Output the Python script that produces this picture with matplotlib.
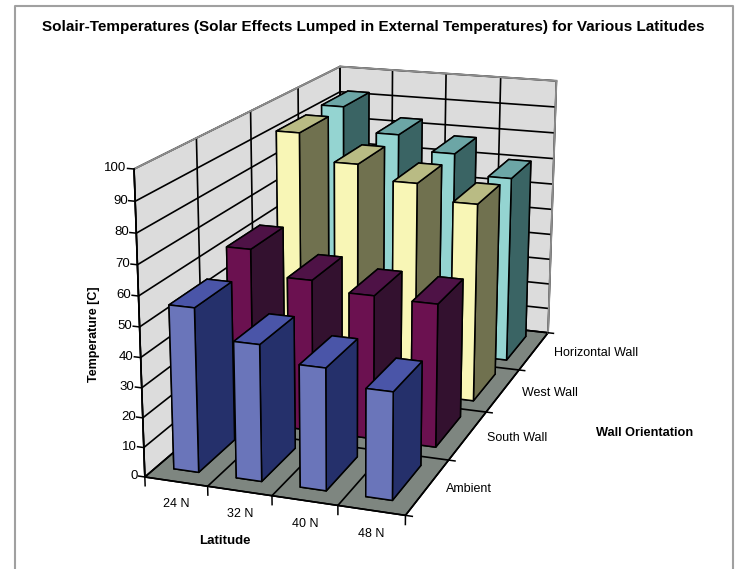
import numpy as np
import matplotlib
matplotlib.use('Agg')
import matplotlib.pyplot as plt
from matplotlib.lines import Line2D
from mpl_toolkits.mplot3d import proj3d

plt.rcParams['font.family'] = ['Liberation Sans', 'DejaVu Sans']

latitudes = ['24 N', '32 N', '40 N', '48 N']
orientations = ['Ambient', 'South Wall', 'West Wall', 'Horizontal Wall']
ambient = [55, 45.5, 40.5, 35.5]
south_wall = [61.5, 53, 50, 49.5]
west_wall = [91.5, 82, 77, 71.5]
horizontal_wall = [92, 83, 77.5, 70]
series = [ambient, south_wall, west_wall, horizontal_wall]
z_ticks = list(range(0, 101, 10))

# face colours: front, side, top for each series
front_colors = ['#6a75ba', '#6b1150', '#f8f6b6', '#94d4d1']
side_colors = ['#25306b', '#33112f', '#70714f', '#3a6464']
top_colors = ['#4a55a8', '#4e1246', '#b9bb84', '#6ca6a6']

W, H = 739, 569
fig = plt.figure(figsize=(W / 100, H / 100), dpi=100, facecolor='white')
ax = fig.add_axes([0.06183, -0.02725, 0.85056, 1.10469], projection='3d')
ax.patch.set_alpha(0)
ax.computed_zorder = False
ax.set_xlim(0, 4, view_margin=0)
ax.set_ylim(0, 4, view_margin=0)
ax.set_zlim(0, 100, view_margin=0)
ax.set_box_aspect((1, 2.0889, 1.1550))
ax.set_proj_type('persp', focal_length=0.5304)
ax.view_init(16.5487, -70.9297, -0.1781)

ax.set_xticks(range(5))
ax.set_yticks(range(5))
ax.set_zticks(z_ticks)
ax.set_xticklabels([])
ax.set_yticklabels([])
ax.set_zticklabels([])
ax.zaxis.set_ticks_position('lower')

for axis, pane in ((ax.xaxis, '#dcdcdc'), (ax.yaxis, '#dcdcdc'), (ax.zaxis, '#7e8680')):
    axis.set_pane_color(pane)
    axis.pane.set_edgecolor('#8c8c8c')
    axis.line.set_color('black')
    axis.line.set_linewidth(1.1)
    axis._axinfo['grid'].update(color='black', linewidth=1.2)
    axis._axinfo['tick'].update(inward_factor=0.0, outward_factor=0.0)
    axis.label.set_visible(False)
    axis.offsetText.set_visible(False)
ax.grid(True)


def label_at(x, y, z, s, **kw):
    """Place a label at a 3D data point through the axes' own projection."""
    px, py, _ = proj3d.proj_transform(x, y, z, ax.get_proj())
    ax.text2D(px, py, s, transform=ax.transData, **kw)


# grey upper and far edges of the walls
edge = dict(color='#8c8c8c', linewidth=1.4, zorder=1)
ax.plot([0, 0], [0, 4], [100, 100], **edge)
ax.plot([0, 4], [4, 4], [100, 100], **edge)
ax.plot([4, 4], [4, 4], [0, 100], **edge)

# tick marks
mark = dict(color='black', linewidth=1.1, zorder=2)
for i in range(5):
    ax.plot([i, i], [0, 0], [0, -3], **mark)
    ax.plot([4, 4.1], [i, i], [0, 0], **mark)
for v in z_ticks:
    ax.plot([0, -0.1], [0, 0], [v, v], **mark)
    label_at(-0.115, 0, v, str(v), ha='right', va='center', fontsize=9.5)
ax.plot([0, 0], [0, 0], [0, 100], color='black', linewidth=1.1, zorder=2)

bar_w, bar_d = 0.40, 0.64
off_x, off_y = 0.27, 0.20
for j in range(3, -1, -1):
    for i in range(4):
        h = series[j][i]
        # bar3d face order: bottom, top, front(-y), back(+y), left(-x), right(+x)
        cols = [side_colors[j], top_colors[j], front_colors[j], side_colors[j],
                side_colors[j], side_colors[j]]
        ax.bar3d(i + off_x, j + off_y, 0, bar_w, bar_d, h, color=cols, shade=False,
                 edgecolor='black', linewidth=1.1, zorder=10 + (3 - j) * 10 + i)

for i, lab in enumerate(latitudes):
    label_at(i + 0.5, 0, -7.8, lab, ha='center', va='center', fontsize=9)
for j, lab in enumerate(orientations):
    label_at(4.28 + 0.025 * j, j + 0.5, 0, lab, ha='left', va='center', fontsize=9)

fig.text(373.5 / W, 1 - 27 / H, 'Solair-Temperatures (Solar Effects Lumped in External Temperatures) for Various Latitudes',
         ha='center', va='center', fontsize=10.95, fontweight='bold')
fig.text(225 / W, 1 - 541 / H, 'Latitude', ha='center', va='center', fontsize=9.5, fontweight='bold')
fig.text(645 / W, 1 - 433 / H, 'Wall Orientation', ha='center', va='center', fontsize=9.2, fontweight='bold')
fig.text(94 / W, 1 - 334 / H, 'Temperature [C]', rotation=90, ha='center', va='center', fontsize=9, fontweight='bold')

# grey frame: left, top and right, running off the bottom of the picture
frame = dict(color='#a0a0a0', linewidth=1.5, transform=fig.transFigure)
xl, xr, yt = 14.5 / W, 732.5 / W, 1 - 5.5 / H
fig.add_artist(Line2D([xl, xl, xr, xr], [0, yt, yt, 0], **frame))
fig.savefig('out.png', dpi=100)
